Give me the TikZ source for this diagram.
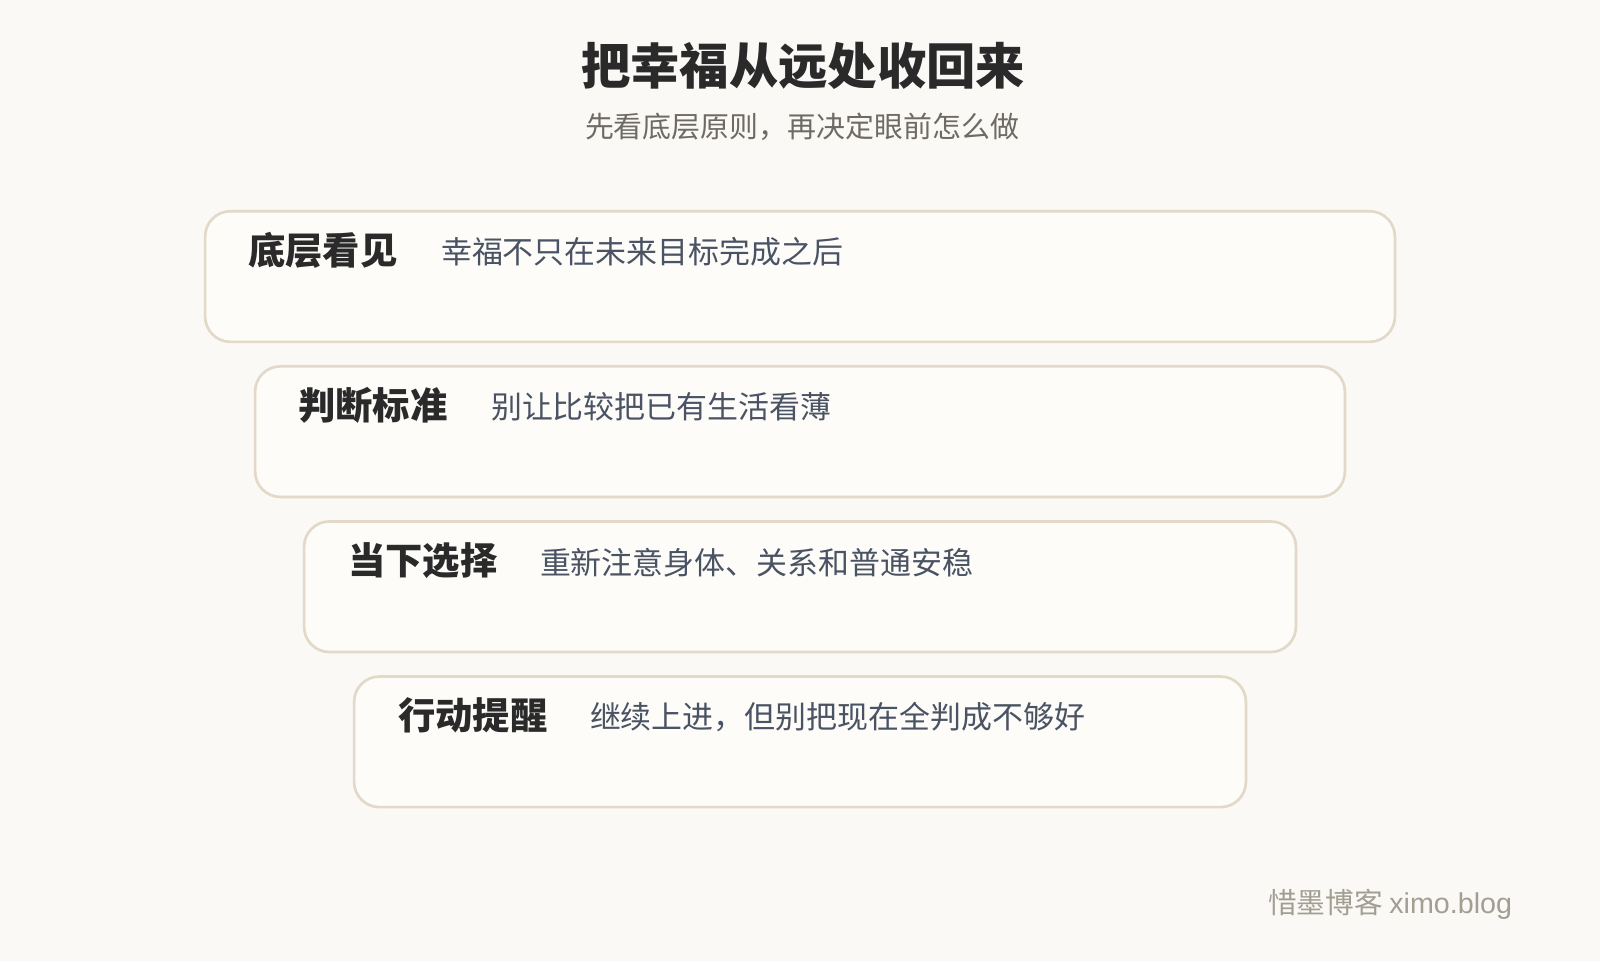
\documentclass[tikz,border=0pt]{standalone}
\usepackage{fontspec}
\setmainfont{Noto Sans CJK SC}
\newfontfamily\footlatin{Liberation Sans}
\usepackage{tikz}
\usetikzlibrary{positioning}

\definecolor{bgpaper}{RGB}{250,249,246}
\definecolor{boxfill}{RGB}{253,252,249}
\definecolor{boxline}{RGB}{226,217,200}
\definecolor{titleink}{RGB}{42,42,42}
\definecolor{subink}{RGB}{110,106,100}
\definecolor{bodyink}{RGB}{74,83,99}
\definecolor{footink}{RGB}{163,158,146}

\tikzset{
  layerbox/.style={draw=boxline, fill=boxfill, line width=2pt, rounded corners=19pt},
  layerlabel/.style={anchor=west, inner sep=0.75pt, text=titleink, font=\fontsize{28}{32}\selectfont\bfseries},
  layertext/.style={anchor=west, inner sep=0.75pt, text=bodyink, font=\fontsize{23.2}{27}\selectfont}
}

\begin{document}
\begin{tikzpicture}[x=0.7653pt,y=0.7653pt,yscale=-1,xscale=1]
	%background, sets the diagram to 1568 x 942
	\fill [bgpaper] (0,0) rectangle (1568,942);
	\useasboundingbox (0,0) rectangle (1568,942);
	
	% Text Node
	\draw (787,65) node [inner sep=0.75pt, text=titleink, font=\fontsize{37}{42}\selectfont\bfseries] (title) {把幸福从远处收回来};
	% Text Node
	\draw (786,124) node [inner sep=0.75pt, text=subink, font=\fontsize{21.7}{25}\selectfont] (subtitle) {先看底层原则，再决定眼前怎么做};
	
	%Rounded Rect [id:layer1] 
	\draw [layerbox] (201,207) rectangle (1367,335);
	%Rounded Rect [id:layer2] 
	\draw [layerbox] (250,359) rectangle (1318,487);
	%Rounded Rect [id:layer3] 
	\draw [layerbox] (298,511) rectangle (1270,639);
	%Rounded Rect [id:layer4] 
	\draw [layerbox] (347,663) rectangle (1221,791);
	
	% Text Node
	\draw (242,245) node [layerlabel] (labelA) {底层看见};
	\draw (431,247) node [layertext] (textA) {幸福不只在未来目标完成之后};
	% Text Node
	\draw (291,397) node [layerlabel] (labelB) {判断标准};
	\draw (480,399) node [layertext] (textB) {别让比较把已有生活看薄};
	% Text Node
	\draw (340,549) node [layerlabel] (labelC) {当下选择};
	\draw (528,551) node [layertext] (textC) {重新注意身体、关系和普通安稳};
	% Text Node
	\draw (389,701) node [layerlabel] (labelD) {行动提醒};
	\draw (577,703) node [layertext] (textD) {继续上进，但别把现在全判成不够好};
	
	% Text Node
	\draw (1483,886) node [anchor=east, inner sep=0.75pt, text=footink, font=\fontsize{21.5}{24}\selectfont] (footer) {惜墨博客 {\footlatin ximo.blog}};
	
\end{tikzpicture}
\end{document}
